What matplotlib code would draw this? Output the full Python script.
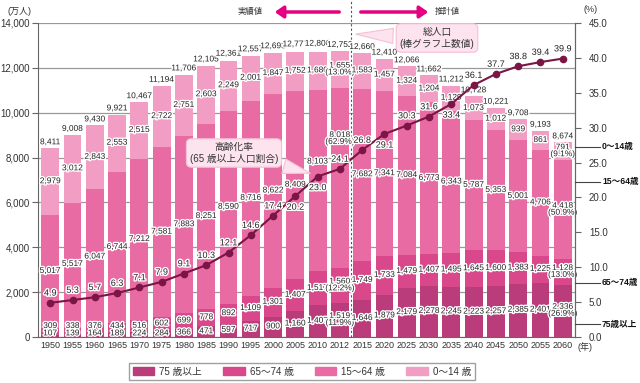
import matplotlib
matplotlib.use("Agg")
import matplotlib.pyplot as plt
import matplotlib.patheffects as pe
from matplotlib import font_manager
from matplotlib.patches import Patch

# fuentes: latinas + japonés
plt.rcParams['font.family'] = ['Liberation Sans', 'Noto Sans CJK JP']
names = {f.name for f in font_manager.fontManager.ttflist}
narrow = 'Liberation Sans Narrow' if 'Liberation Sans Narrow' in names else 'Liberation Sans'

# datos
years = ["1950", "1955", "1960", "1965", "1970", "1975", "1980", "1985", "1990",
         "1995", "2000", "2005", "2010", "2012", "2015", "2020", "2025", "2030",
         "2035", "2040", "2045", "2050", "2055", "2060"]
total = [8411, 9008, 9430, 9921, 10467, 11194, 11706, 12105, 12361, 12557, 12693,
         12777, 12806, 12752, 12660, 12410, 12066, 11662, 11212, 10728, 10221,
         9708, 9193, 8674]
age_0_14 = [2979, 3012, 2843, 2553, 2515, 2722, 2751, 2603, 2249, 2001, 1847, 1752,
            1680, 1655, 1583, 1457, 1324, 1204, 1129, 1073, 1012, 939, 861, 791]
age_15_64 = [5017, 5517, 6047, 6744, 7212, 7581, 7883, 8251, 8590, 8716, 8622, 8409,
             8103, 8018, 7682, 7341, 7084, 6773, 6343, 5787, 5353, 5001, 4706, 4418]
age_65_74 = [309, 338, 376, 434, 516, 602, 699, 778, 892, 1109, 1301, 1407, 1517,
             1560, 1749, 1733, 1479, 1407, 1495, 1645, 1600, 1383, 1225, 1128]
age_75_up = [107, 139, 164, 189, 224, 284, 366, 471, 597, 717, 900, 1160, 1407,
             1519, 1646, 1879, 2179, 2278, 2245, 2223, 2257, 2385, 2401, 2336]
aging_rate = [4.9, 5.3, 5.7, 6.3, 7.1, 7.9, 9.1, 10.3, 12.1, 14.6, 17.4, 20.2, 23.0,
              24.1, 26.8, 29.1, 30.3, 31.6, 33.4, 36.1, 37.7, 38.8, 39.4, 39.9]
# participación (0-14, 15-64, 65-74, 75+)
share_2012 = ["13.0%", "62.9%", "12.2%", "11.9%"]
share_2060 = ["9.1%", "50.9%", "13.0%", "26.9%"]

legend_labels = ["75 歳以上", "65～74 歳", "15～64 歳", "0～14 歳"]
side_labels = ["0～14歳", "15～64歳", "65～74歳", "75歳以上"]

# estilo
c75, c65, c15, c0 = "#bb3c7b", "#d9488b", "#e96ba3", "#f29dc3"
c_line = "#7a1545"
c_pink = "#e4007f"
txt = "#333333"
halo = [pe.withStroke(linewidth=2, foreground="white")]

fig = plt.figure(figsize=(6.4, 3.83), dpi=100)
ax = fig.add_axes([38 / 640, 1 - 337 / 383, 537 / 640, 314 / 383])
x = list(range(len(years)))

b1 = [a + b for a, b in zip(age_75_up, age_65_74)]
b2 = [a + b for a, b in zip(b1, age_15_64)]
ax.bar(x, age_75_up, 0.8, color=c75, zorder=2)
ax.bar(x, age_65_74, 0.8, bottom=age_75_up, color=c65, zorder=2)
ax.bar(x, age_15_64, 0.8, bottom=b1, color=c15, zorder=2)
ax.bar(x, age_0_14, 0.8, bottom=b2, color=c0, zorder=2)

ax.set_xlim(-0.55, 23.55)
ax.set_ylim(0, 14000)
ax.set_yticks(range(0, 14001, 2000))
ax.set_yticklabels([f"{v:,}" for v in range(0, 14001, 2000)], fontsize=7, color=txt)
ax.set_xticks(x)
ax.set_xticklabels(years, fontsize=6.5, color=txt)
ax.tick_params(axis="x", length=0, pad=3)
ax.tick_params(axis="y", length=4, color="#666666", pad=2)
ax.yaxis.grid(True, color="#999999", lw=0.9)
ax.set_axisbelow(True)
ax.spines["top"].set_visible(False)
for s in ["left", "bottom", "right"]:
    ax.spines[s].set_color("#666666")
    ax.spines[s].set_linewidth(0.8)

# separación real / estimado
ax.axvline(13.5, 0, 337 / 314, color="#555555", lw=0.8, ls=(0, (2, 2)), clip_on=False, zorder=3)


def put(xx, yy, s):
    ax.text(xx, yy, s, ha="center", va="center", fontsize=6, family=narrow,
            color="#222222", path_effects=halo, zorder=5, linespacing=0.95)


up_15_64 = {12: 7800, 13: 8830}
for i in x:
    shares = share_2012 if years[i] == "2012" else share_2060 if years[i] == "2060" else None
    vals = [age_0_14[i], age_15_64[i], age_65_74[i], age_75_up[i]]
    lab = [f"{v:,}" if shares is None else f"{v:,}\n({shares[k]})" for k, v in enumerate(vals)]
    m75 = max(age_75_up[i] / 2, 140)
    m65 = max(age_75_up[i] + age_65_74[i] / 2, m75 + 330)
    m15 = up_15_64.get(i, b1[i] + age_15_64[i] / 2)
    m0 = b2[i] + age_0_14[i] / 2
    put(i, m0, lab[0])
    put(i, m15, lab[1])
    put(i, m65, lab[2])
    put(i, m75, lab[3])
    ax.annotate(f"{total[i]:,}", (i, total[i]), xytext=(0, 1.5), textcoords="offset points",
                ha="center", va="bottom", fontsize=6, family=narrow, color="#222222",
                path_effects=halo, zorder=5)

# tasa de envejecimiento
ax2 = ax.twinx()
ax2.set_ylim(0, 45)
ax2.set_yticks([v * 5 for v in range(10)])
ax2.set_yticklabels([f"{v * 5:.1f}" for v in range(10)], fontsize=7, color=txt)
ax2.tick_params(axis="y", length=4, color="#666666", pad=6)
for s in ["top", "left", "bottom"]:
    ax2.spines[s].set_visible(False)
ax2.spines["right"].set_color("#666666")
ax2.spines["right"].set_linewidth(0.8)
ax2.plot(x, aging_rate, color=c_line, lw=1.5, marker="o", ms=4.5, zorder=4)
below = {"2005", "2010", "2020", "2035"}
for i, r in enumerate(aging_rate):
    dy = -8 if years[i] in below else 7
    ax2.annotate(f"{r:.1f}", (i, r), xytext=(0, dy), textcoords="offset points",
                 ha="center", va="center", fontsize=6.5, family=narrow, color="#222222",
                 path_effects=halo, zorder=6)

# cuadros explicativos
box = dict(boxstyle="round,pad=0.35,rounding_size=0.5", fc="#fde3ee", ec="#f5bfd6", lw=0.8)
wedge = dict(arrowstyle="wedge,tail_width=0.9,shrink_factor=0.5", fc="#fde3ee", ec="#f5bfd6",
             lw=0.8, mutation_scale=12)
ax2.annotate("高齢化率\n(65 歳以上人口割合)", xy=(313, 209), xycoords="figure pixels",
             xytext=(234, 230), textcoords="figure pixels", ha="center", va="center",
             fontsize=7, color=txt, bbox=box, arrowprops=wedge, zorder=7)
ax2.annotate("総人口\n(棒グラフ上数値)", xy=(353, 349), xycoords="figure pixels",
             xytext=(437, 345), textcoords="figure pixels", ha="center", va="center",
             fontsize=7, color=txt, bbox=box, arrowprops=wedge, zorder=7)

# flechas superiores
arr = dict(arrowstyle="-|>,head_length=0.5,head_width=0.35", color=c_pink, lw=2.5, mutation_scale=10)
fig.add_artist(plt.Annotation("", xy=(272 / 640, 1 - 12 / 383), xytext=(342 / 640, 1 - 12 / 383),
                              xycoords="figure fraction", arrowprops=arr))
fig.add_artist(plt.Annotation("", xy=(431 / 640, 1 - 12 / 383), xytext=(358 / 640, 1 - 12 / 383),
                              xycoords="figure fraction", arrowprops=arr))
fig.text(263 / 640, 1 - 12 / 383, "実績値", ha="right", va="center", fontsize=6, color=txt)
fig.text(435 / 640, 1 - 12 / 383, "推計値", ha="left", va="center", fontsize=6, color=txt)

fig.text(8 / 640, 1 - 12 / 383, "(万人)", ha="left", va="center", fontsize=6.5, color=txt)
fig.text(583 / 640, 1 - 10 / 383, "(%)", ha="left", va="center", fontsize=6.5, color=txt)
fig.text(578 / 640, 1 - 347 / 383, "(年)", ha="left", va="center", fontsize=6.5, color=txt)

# etiquetas laterales
side_y = [147, 182, 283, 324]
for s, yy in zip(side_labels, side_y):
    yf = 1 - yy / 383
    fig.add_artist(plt.Line2D([575 / 640, 600 / 640], [yf, yf], color="#444444", lw=0.8))
    fig.text(602 / 640, yf, s, ha="left", va="center", fontsize=6.2, fontweight="bold", color="#111111")

# leyenda
handles = [Patch(color=c) for c in [c75, c65, c15, c0]]
fig.legend(handles, legend_labels, loc="center", bbox_to_anchor=(302 / 640, 1 - 371.5 / 383),
           ncol=4, fontsize=7, frameon=True, fancybox=False, edgecolor="#888888",
           handlelength=2.2, handleheight=0.9, columnspacing=2.2, handletextpad=0.5,
           borderpad=0.4, labelcolor=txt)

fig.savefig("out.png", dpi=100)
